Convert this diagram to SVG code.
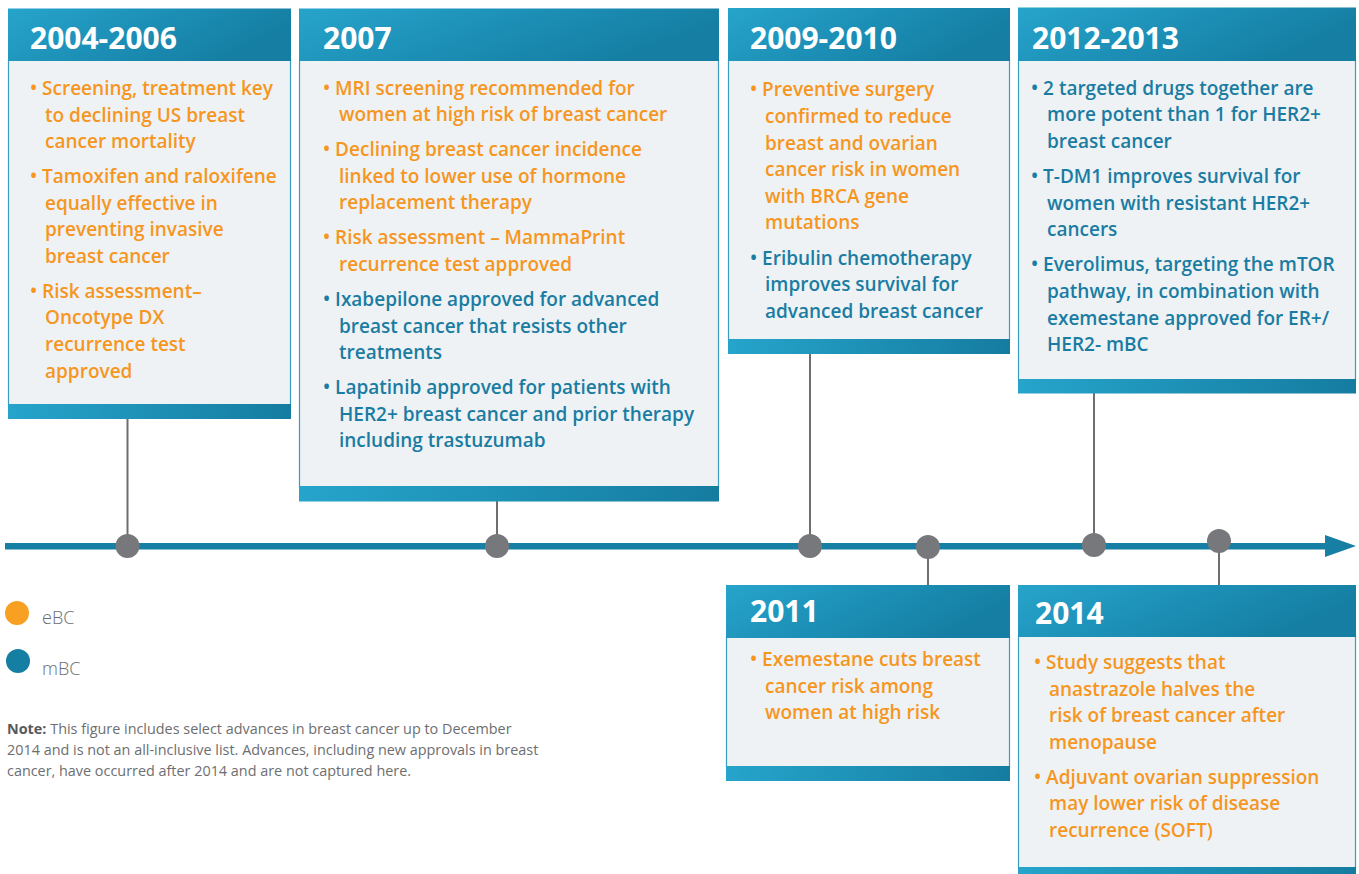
<svg xmlns="http://www.w3.org/2000/svg" width="1359" height="874" viewBox="0 0 1359 874">
  <defs>
    <linearGradient id="bar" x1="0" y1="0" x2="1" y2="0.35">
      <stop offset="0" stop-color="#27a4cb"/>
      <stop offset="0.5" stop-color="#1d90b7"/>
      <stop offset="1" stop-color="#157ea2"/>
    </linearGradient>
    <linearGradient id="band" x1="0" y1="0" x2="1" y2="0">
      <stop offset="0" stop-color="#26a4cb"/>
      <stop offset="1" stop-color="#157ca0"/>
    </linearGradient>
    <style>
      .body { fill: #eef2f5; stroke: #3b9cc2; stroke-width: 1.2; }
      .head { fill: url(#bar); }
      .foot { fill: url(#band); }
      .yr { font-family: "Open Sans", "Liberation Sans", sans-serif; font-weight: 700; font-size: 30px; fill: #ffffff; }
      .t { font-family: "Open Sans", "Liberation Sans", sans-serif; font-weight: 600; font-size: 19px; }
      .o { fill: #f6961f; }
      .b { fill: #1a7ca2; }
      .stem { stroke: #6d6e71; stroke-width: 2; fill: none; }
      .dot { fill: #77787b; }
      .lg { font-family: "Open Sans", "Liberation Sans", sans-serif; font-weight: 300; font-size: 18px; fill: #6d6e71; }
      .note { font-family: "Open Sans", "Liberation Sans", sans-serif; font-size: 14.4px; fill: #6d6e71; }
    </style>
  </defs>

  <rect width="1359" height="874" fill="#ffffff"/>

  <!-- vertical stems from the boxes to the axis -->
  <g id="connectors">
    <line class="stem" x1="127.5" y1="419" x2="127.5" y2="546"/>
    <line class="stem" x1="497" y1="501" x2="497" y2="546"/>
    <line class="stem" x1="810" y1="354" x2="810" y2="546"/>
    <line class="stem" x1="1094" y1="393" x2="1094" y2="545"/>
    <line class="stem" x1="928" y1="547" x2="928" y2="585"/>
    <line class="stem" x1="1219" y1="541" x2="1219" y2="585"/>
  </g>

  <!-- time axis with arrowhead and event markers -->
  <g id="axis">
    <rect x="5" y="543" width="1322" height="6.5" fill="#177fa3"/>
    <polygon points="1325,535 1356,546 1325,557" fill="#177fa3"/>
    <circle class="dot" cx="127.5" cy="546" r="12"/>
    <circle class="dot" cx="497" cy="546" r="12"/>
    <circle class="dot" cx="810" cy="546" r="12"/>
    <circle class="dot" cx="928" cy="547" r="12"/>
    <circle class="dot" cx="1094" cy="545" r="12"/>
    <circle class="dot" cx="1219" cy="541" r="12"/>
  </g>

  <g id="box-2004-2006">
    <rect class="body" x="8.5" y="60" width="282" height="345"/>
    <rect class="head" x="8" y="8.5" width="283" height="52.5"/>
    <rect class="foot" x="8" y="404" width="283" height="15"/>
    <text class="yr" x="30" y="49">2004-2006</text>
    <g class="t o">
      <text x="30" y="95">• Screening, treatment key</text>
      <text x="45" y="122">to declining US breast</text>
      <text x="45" y="148">cancer mortality</text>
      <text x="30" y="183">• Tamoxifen and raloxifene</text>
      <text x="45" y="210">equally effective in</text>
      <text x="45" y="236">preventing invasive</text>
      <text x="45" y="263">breast cancer</text>
      <text x="30" y="298">• Risk assessment–</text>
      <text x="45" y="324">Oncotype DX</text>
      <text x="45" y="351">recurrence test</text>
      <text x="45" y="378">approved</text>
    </g>
  </g>

  <g id="box-2007">
    <rect class="body" x="299.5" y="60" width="419" height="427"/>
    <rect class="head" x="299" y="8.5" width="420" height="52.5"/>
    <rect class="foot" x="299" y="486" width="420" height="15.5"/>
    <text class="yr" x="323" y="49">2007</text>
    <g class="t o">
      <text x="323" y="95">• MRI screening recommended for</text>
      <text x="339" y="121">women at high risk of breast cancer</text>
      <text x="323" y="156">• Declining breast cancer incidence</text>
      <text x="339" y="183">linked to lower use of hormone</text>
      <text x="339" y="209">replacement therapy</text>
      <text x="323" y="244">• Risk assessment – MammaPrint</text>
      <text x="339" y="271">recurrence test approved</text>
    </g>
    <g class="t b">
      <text x="323" y="306">• Ixabepilone approved for advanced</text>
      <text x="339" y="333">breast cancer that resists other</text>
      <text x="339" y="359">treatments</text>
      <text x="323" y="394">• Lapatinib approved for patients with</text>
      <text x="339" y="421">HER2+ breast cancer and prior therapy</text>
      <text x="339" y="447">including trastuzumab</text>
    </g>
  </g>

  <g id="box-2009-2010">
    <rect class="body" x="728.5" y="60" width="281" height="280"/>
    <rect class="head" x="728" y="8" width="282" height="53"/>
    <rect class="foot" x="728" y="339" width="282" height="15"/>
    <text class="yr" x="750" y="49">2009-2010</text>
    <g class="t o">
      <text x="750" y="96">• Preventive surgery</text>
      <text x="765" y="123">confirmed to reduce</text>
      <text x="765" y="150">breast and ovarian</text>
      <text x="765" y="176">cancer risk in women</text>
      <text x="765" y="203">with BRCA gene</text>
      <text x="765" y="229">mutations</text>
    </g>
    <g class="t b">
      <text x="750" y="265">• Eribulin chemotherapy</text>
      <text x="765" y="291">improves survival for</text>
      <text x="765" y="318">advanced breast cancer</text>
    </g>
  </g>

  <g id="box-2012-2013">
    <rect class="body" x="1018.5" y="60" width="337" height="320"/>
    <rect class="head" x="1018" y="7.5" width="338" height="53.5"/>
    <rect class="foot" x="1018" y="379" width="338" height="14.5"/>
    <text class="yr" x="1032" y="49">2012-2013</text>
    <g class="t b">
      <text x="1031" y="95">• 2 targeted drugs together are</text>
      <text x="1047" y="121">more potent than 1 for HER2+</text>
      <text x="1047" y="148">breast cancer</text>
      <text x="1031" y="183">• T-DM1 improves survival for</text>
      <text x="1047" y="210">women with resistant HER2+</text>
      <text x="1047" y="236">cancers</text>
      <text x="1031" y="271">• Everolimus, targeting the mTOR</text>
      <text x="1047" y="298">pathway, in combination with</text>
      <text x="1047" y="325">exemestane approved for ER+/</text>
      <text x="1047" y="351">HER2- mBC</text>
    </g>
  </g>

  <g id="box-2011">
    <rect class="body" x="726.5" y="636" width="283" height="131"/>
    <rect class="head" x="726" y="585" width="284" height="53"/>
    <rect class="foot" x="726" y="766" width="284" height="15"/>
    <text class="yr" x="750" y="622">2011</text>
    <g class="t o">
      <text x="750" y="666">• Exemestane cuts breast</text>
      <text x="765" y="693">cancer risk among</text>
      <text x="765" y="719">women at high risk</text>
    </g>
  </g>

  <g id="box-2014">
    <rect class="body" x="1018.5" y="635" width="337" height="233"/>
    <rect class="head" x="1018" y="585" width="338" height="52"/>
    <rect class="foot" x="1018" y="867" width="338" height="10"/>
    <text class="yr" x="1035" y="624">2014</text>
    <g class="t o">
      <text x="1034" y="669">• Study suggests that</text>
      <text x="1049" y="696">anastrazole halves the</text>
      <text x="1049" y="722">risk of breast cancer after</text>
      <text x="1049" y="749">menopause</text>
      <text x="1034" y="784">• Adjuvant ovarian suppression</text>
      <text x="1049" y="810">may lower risk of disease</text>
      <text x="1049" y="837">recurrence (SOFT)</text>
    </g>
  </g>

  <g id="legend">
    <circle cx="17" cy="613" r="12" fill="#f7a021"/>
    <text class="lg" x="42" y="624">eBC</text>
    <circle cx="18" cy="661" r="12" fill="#157fa3"/>
    <text class="lg" x="42" y="675">mBC</text>
  </g>

  <g id="note">
    <text class="note" x="7" y="734"><tspan font-weight="700" fill="#58595b">Note:</tspan> This figure includes select advances in breast cancer up to December</text>
    <text class="note" x="7" y="755">2014 and is not an all-inclusive list. Advances, including new approvals in breast</text>
    <text class="note" x="7" y="776">cancer, have occurred after 2014 and are not captured here.</text>
  </g>
</svg>
